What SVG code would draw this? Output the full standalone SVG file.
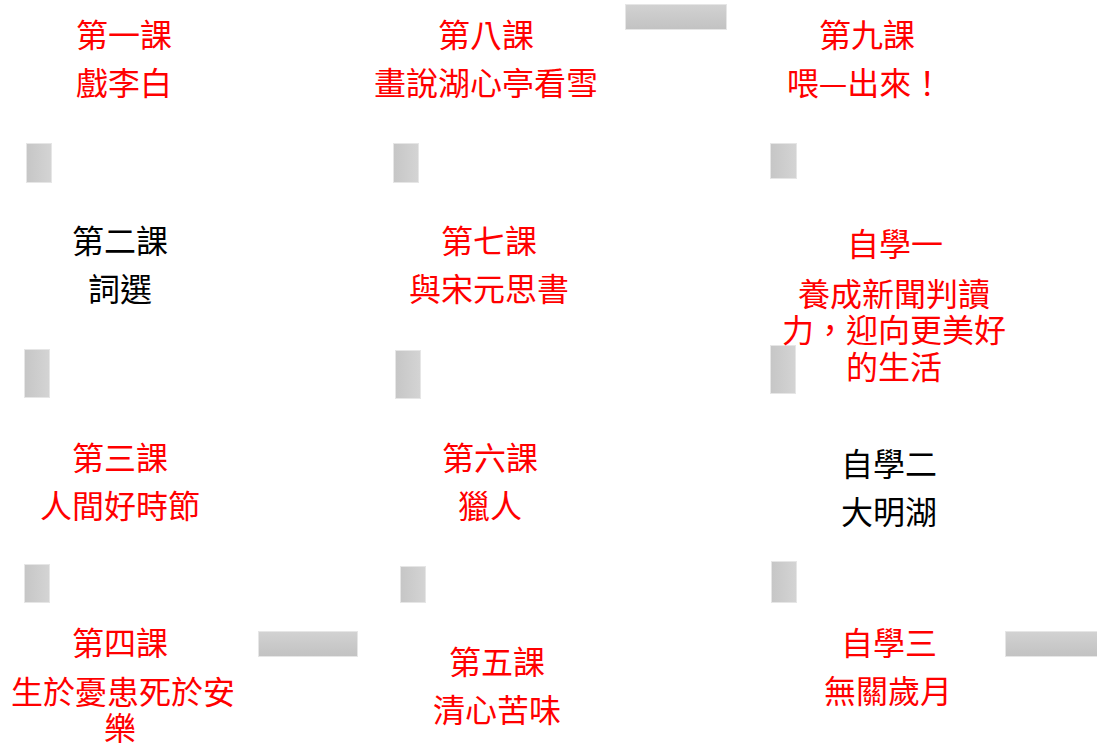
<svg xmlns="http://www.w3.org/2000/svg" width="1097" height="747" viewBox="0 0 1097 747">
<style>
text{font-family:"Noto Sans CJK TC","Noto Sans CJK SC",sans-serif;font-size:32px;text-anchor:middle;}
.r{fill:#ff0000;}
.k{fill:#000000;}
.h{fill:url(#gh);stroke:#e6e6e6;stroke-width:1;}
.v{fill:url(#gv);stroke:#e6e6e6;stroke-width:1;}
</style>
<defs>
<linearGradient id="gh" x1="0" y1="0" x2="0" y2="1"><stop offset="0" stop-color="#d2d2d2"/><stop offset="1" stop-color="#c2c2c2"/></linearGradient>
<linearGradient id="gv" x1="0" y1="0" x2="1" y2="0"><stop offset="0" stop-color="#c6c6c6"/><stop offset="1" stop-color="#d4d4d4"/></linearGradient>
</defs>
<rect width="1097" height="747" fill="#ffffff"/>
<g id="connectors">
<rect class="h" x="625.5" y="4.5" width="101" height="25"/>
<rect class="v" x="26.5" y="143.5" width="25" height="39"/>
<rect class="v" x="393.5" y="143.5" width="25" height="39"/>
<rect class="v" x="770.5" y="143.5" width="26" height="35"/>
<rect class="v" x="24.5" y="349.5" width="25" height="48"/>
<rect class="v" x="395.5" y="350.5" width="25" height="48"/>
<rect class="v" x="770.5" y="345.5" width="25" height="48"/>
<rect class="v" x="24.5" y="564.5" width="25" height="38"/>
<rect class="v" x="400.5" y="566.5" width="25" height="36"/>
<rect class="v" x="771.5" y="561.5" width="25" height="41"/>
<rect class="h" x="258.5" y="631.5" width="99" height="25"/>
<rect class="h" x="1005.5" y="631.5" width="92" height="25"/>
</g>
<g id="n1" class="r"><text x="124" y="47">第一課</text><text x="124" y="95">戲李白</text></g>
<g id="n8" class="r"><text x="486" y="47">第八課</text><text x="486" y="95">畫說湖心亭看雪</text></g>
<g id="n9" class="r"><text x="867" y="47">第九課</text><text x="865" y="95">喂—出來！</text></g>
<g id="n2" class="k"><text x="120" y="253">第二課</text><text x="120" y="301">詞選</text></g>
<g id="n7" class="r"><text x="489" y="253">第七課</text><text x="489" y="301">與宋元思書</text></g>
<g id="s1" class="r"><text x="895" y="256">自學一</text><text x="894" y="306">養成新聞判讀</text><text x="894" y="342">力，迎向更美好</text><text x="894" y="379">的生活</text></g>
<g id="n3" class="r"><text x="120" y="470">第三課</text><text x="120" y="518">人間好時節</text></g>
<g id="n6" class="r"><text x="490" y="470">第六課</text><text x="490" y="518">獵人</text></g>
<g id="s2" class="k"><text x="889" y="476">自學二</text><text x="889" y="524">大明湖</text></g>
<g id="n4" class="r"><text x="120" y="655">第四課</text><text x="123" y="704">生於憂患死於安</text><text x="120" y="740">樂</text></g>
<g id="n5" class="r"><text x="497" y="674">第五課</text><text x="497" y="722">清心苦味</text></g>
<g id="s3" class="r"><text x="889" y="655">自學三</text><text x="888" y="703">無關歲月</text></g>
</svg>
